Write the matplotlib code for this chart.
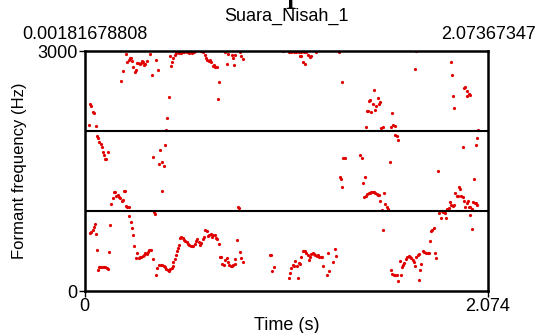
import matplotlib
matplotlib.use("Agg")
import matplotlib.pyplot as plt

# formant points, grouped roughly by band
high_t = [
    0.025, 0.058, 0.030, 0.035, 0.044, 0.050,
    0.188, 0.196, 0.213, 0.220, 0.227, 0.232, 0.237, 0.244, 0.251, 0.258,
    0.263, 0.270, 0.276, 0.284, 0.290, 0.297, 0.302, 0.307, 0.312, 0.320,
    0.338, 0.345, 0.369, 0.376, 0.433, 0.426, 0.417, 0.439, 0.444, 0.451, 0.456,
    0.463, 0.470, 0.477, 0.484, 0.491, 0.497, 0.505, 0.511, 0.520, 0.528, 0.538, 0.546, 0.554, 0.563, 0.568,
    0.597, 0.607, 0.618, 0.624, 0.631, 0.638, 0.645, 0.651, 0.659, 0.665, 0.672, 0.681, 0.691, 0.688,
    0.720, 0.739, 0.756, 0.775, 0.763, 0.732, 0.770, 0.801, 0.806, 0.813,
    1.020, 1.049, 1.063, 1.077, 1.088, 1.101, 1.114, 1.128, 1.140, 1.107, 1.114, 1.124, 1.132, 1.148, 1.157, 1.164, 1.188, 1.306, 1.325,
    1.705, 1.700, 1.882, 1.887, 1.488, 1.464, 1.469, 1.481, 1.507, 1.500, 1.513, 1.520, 1.493, 1.474, 1.450, 1.457, 1.582, 1.445, 1.525, 1.532, 1.575, 1.587, 1.596,
    1.950, 1.957, 1.967, 1.974, 1.981, 1.966, 1.894, 1.899, 2.022,
]
high_hz = [
    2075, 2066, 2334, 2316, 2241, 2229,
    2625, 2746, 2959, 2859, 2888, 2909, 2916, 2879, 2800, 2741,
    2766, 2846, 2846, 2838, 2846, 2875, 2859, 2825, 2838, 2875,
    2966, 2696, 2884, 2766, 2421, 2159, 2016, 2934, 2809, 2859, 2909,
    2954, 2975, 2991, 2979, 2991, 2975, 2991, 2988, 2995, 2991, 2975, 2991, 2971, 2988, 2995,
    2995, 2991, 2950, 2909, 2891, 2879, 2888, 2859, 2816, 2825, 2804, 2800, 2616, 2400,
    2991, 2959, 2954, 2954, 2909, 2834, 2821, 2984, 2938, 2904,
    2995, 2984, 2984, 2984, 2984, 2984, 2984, 2984, 2984, 2934, 2941, 2866, 2834, 2950, 2925, 2941, 2984, 2984, 2616,
    2995, 2775, 2863, 2696, 2516, 2375, 2388, 2338, 2409, 2309, 2338, 2359, 2259, 2234, 2250, 2250, 2221, 2046, 2034, 2054, 2050, 2075, 2066,
    2534, 2550, 2500, 2466, 2454, 2438, 2438, 2284, 2016,
]

mid_t = [
    0.063, 0.069, 0.076, 0.083, 0.088, 0.095, 0.102, 0.107, 0.112, 0.119,
    0.350, 0.388, 0.414, 0.383, 0.397, 0.409,
    0.138, 0.145, 0.150, 0.157, 0.163, 0.171, 0.177, 0.184, 0.191, 0.196, 0.203, 0.207, 0.212, 0.220, 0.227,
    0.356, 0.362, 0.400, 0.789, 0.794,
    1.330, 1.337, 1.597, 1.606, 1.613, 1.417, 1.424, 1.568, 2.015, 2.010, 1.947,
    1.311, 1.318, 1.325, 1.433, 1.440,
    1.438, 1.445, 1.452, 1.460, 1.467, 1.474, 1.481, 1.488, 1.495, 1.502, 1.508, 1.515, 1.537, 1.518, 1.543, 1.553, 1.560, 1.527,
    1.818, 1.823, 1.830, 1.837, 1.844, 1.851, 1.858, 1.864, 1.872, 1.878, 1.885, 1.892, 1.899,
    1.905, 1.913, 1.919, 1.923, 1.929, 1.936, 1.943, 1.950, 1.956, 1.964, 1.970, 1.977, 1.984, 1.991, 1.998, 2.005, 2.011, 2.018, 2.000,
]
mid_hz = [
    1941, 1909, 1866, 1838, 1796, 1741, 1696, 1654, 1654, 1734,
    1679, 1759, 1825, 1584, 1609, 1563,
    1091, 1163, 1234, 1234, 1188, 1196, 1171, 1159, 1121, 1134, 1250, 1254, 1066, 1050, 1050,
    991, 963, 1250, 1046, 1034,
    1666, 1659, 1950, 1934, 1884, 1696, 1659, 1613, 1913, 1825, 1800,
    1421, 1400, 1300, 1354, 1425,
    1179, 1188, 1213, 1221, 1229, 1234, 1238, 1234, 1229, 1217, 1204, 1196, 1229, 1121, 1088, 1054, 1025, 1016,
    1496, 975, 913, 1004, 988, 975, 913, 1029, 1038, 1113, 1079, 1059, 1071,
    1229, 1188, 1188, 1296, 1271, 1188, 1179, 1121, 1054, 1104, 1129, 1054, 1054, 1029, 1113, 1104, 1096, 1079, 1404,
]

low_t = [
    0.027, 0.035, 0.042, 0.047, 0.052, 0.058, 0.063,
    0.068, 0.073, 0.080, 0.086, 0.094, 0.100, 0.107, 0.114, 0.121, 0.124, 0.131,
    0.230, 0.237, 0.243, 0.249, 0.256,
    0.263, 0.271, 0.279, 0.285, 0.292, 0.299, 0.306, 0.312, 0.320, 0.326, 0.333, 0.340, 0.350,
    0.367, 0.374, 0.383, 0.392, 0.400, 0.407, 0.414, 0.420, 0.428, 0.434, 0.441, 0.448, 0.455,
    0.456, 0.463, 0.470, 0.475, 0.480, 0.485, 0.491, 0.498, 0.504, 0.511, 0.518, 0.525, 0.532, 0.538, 0.545, 0.552,
    0.559, 0.566, 0.573, 0.579, 0.587, 0.593, 0.600, 0.607, 0.614, 0.621, 0.628, 0.635, 0.641, 0.648, 0.655, 0.662, 0.669,
    0.676, 0.682, 0.690, 0.696, 0.703,
    0.708, 0.715, 0.724, 0.731, 0.737, 0.744, 0.751, 0.758, 0.765, 0.772, 0.775, 0.782, 0.801, 0.806, 0.813,
    0.952, 0.957, 0.964, 0.975,
    1.049, 1.056, 1.063, 1.070, 1.077, 1.083, 1.090, 1.097, 1.102, 1.109, 1.114, 1.121, 1.128, 1.134,
    1.141, 1.148, 1.152, 1.159, 1.165, 1.172, 1.179, 1.186, 1.193, 1.200, 1.206, 1.214, 1.220,
    1.226, 1.245, 1.255, 1.250, 1.279, 1.287, 1.294,
    1.532, 1.575, 1.582, 1.589, 1.597, 1.606, 1.613, 1.626,
    1.620, 1.630, 1.637, 1.643, 1.652, 1.659, 1.666, 1.673, 1.679, 1.686, 1.693, 1.700,
    1.705, 1.712, 1.720, 1.724, 1.731, 1.719,
    1.738, 1.746, 1.755, 1.764, 1.772, 1.800, 1.806,
    1.774, 1.781, 1.787, 1.794, 1.981, 1.993,
]
low_hz = [
    725, 734, 766, 804, 838, 709, 513,
    259, 300, 304, 300, 300, 304, 300, 288, 279, 488, 829,
    934, 859, 788, 700, 559,
    409, 471, 413, 421, 429, 438, 446, 471, 463, 488, 509, 516, 404,
    196, 288, 329, 329, 325, 313, 296, 279, 263, 250, 271, 291, 313,
    363, 396, 446, 496, 538, 579, 663, 675, 663, 641, 625, 609, 588, 575, 566, 563,
    563, 588, 625, 646, 613, 579, 600, 650, 679, 763, 746, 684, 704, 716, 679, 704, 704,
    663, 650, 588, 421, 421,
    338, 325, 391, 413, 363, 321, 316, 316, 325, 338, 404, 641, 488, 413, 366,
    450, 446, 250, 300,
    163, 229, 288, 329, 316, 375, 309, 159, 346, 338, 421, 496, 504, 496,
    471, 446, 391, 421, 463, 471, 463, 446, 438, 446, 421, 421, 421,
    309, 204, 254, 475, 366, 521, 434,
    766, 266, 213, 196, 204, 196, 129, 196,
    379, 296, 329, 354, 404, 429, 434, 429, 413, 388, 363, 309,
    429, 454, 463, 263, 334, 141,
    504, 488, 479, 471, 471, 475, 409,
    625, 746, 763, 791, 946, 779,
]

t_start = 0.0
t_end = 2.074
f_max = 3000
grid_hz = [1000, 2000]
sel_start = "0.00181678808"
sel_end = "2.07367347"
title = "Suara_Nisah_1"

plt.rcParams["font.family"] = ["Liberation Sans", "DejaVu Sans"]

fig = plt.figure(figsize=(5.35, 3.33), dpi=100)
ax = fig.add_axes([84.5 / 535, 42 / 333, 403.5 / 535, 240 / 333])

for t, hz in [(high_t, high_hz), (mid_t, mid_hz), (low_t, low_hz)]:
    ax.plot(t, hz, "o", ms=2.3, color="#e00000", mec="none")

for g in grid_hz:
    ax.axhline(g, color="black", lw=1.5)

ax.set_xlim(t_start, t_end)
ax.set_ylim(0, f_max)
ax.set_xticks([t_start, t_end])
ax.set_xticklabels(["0", f"{t_end:.3f}"])
ax.set_yticks([0, f_max])
ax.set_yticklabels(["0", str(f_max)])
ax.tick_params(labelsize=13, length=4, width=1, pad=1)
for s in ax.spines.values():
    s.set_linewidth(1.8)

ax.set_xlabel("Time (s)", fontsize=13, va="center")
ax.xaxis.set_label_coords(0.5, -0.142)
ax.set_ylabel("Formant frequency (Hz)", fontsize=12, va="center")
ax.yaxis.set_label_coords(-0.16, 0.5)

ax.text(0, 1.067, sel_start, transform=ax.transAxes, ha="center", va="center", fontsize=13)
ax.text(1, 1.067, sel_end, transform=ax.transAxes, ha="center", va="center", fontsize=13)
ax.text(0.5, 1.146, title, transform=ax.transAxes, ha="center", va="center", fontsize=13)

# stray descender of a large glyph peeking in at the top edge
fig.text(0.552, 1.0, "p", family="Liberation Serif", fontsize=30, ha="center", va="baseline")

fig.savefig("out.png", dpi=100)
